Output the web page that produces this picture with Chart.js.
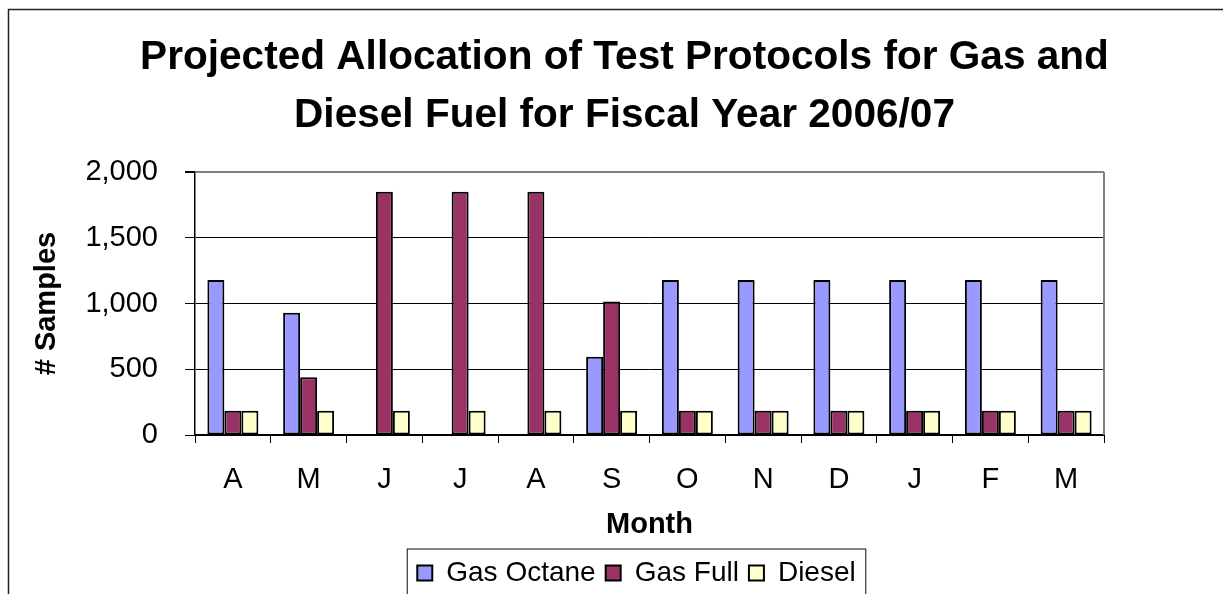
<!DOCTYPE html>
<html>
<head>
<meta charset="utf-8">
<script src="https://cdn.jsdelivr.net/npm/chart.js@4.4.0/dist/chart.umd.min.js"></script>
<style>
  html, body { margin: 0; padding: 0; background: #fff; }
  canvas { display: block; }
</style>
</head>
<body>
<canvas id="fuelChart" width="1223" height="594"></canvas>
<script>
const months = ['A', 'M', 'J', 'J', 'A', 'S', 'O', 'N', 'D', 'J', 'F', 'M'];
const gasOctane = [1180, 930, null, null, null, 595, 1180, 1180, 1180, 1180, 1180, 1180];
const gasFull = [185, 440, 1850, 1850, 1850, 1015, 185, 185, 185, 185, 185, 185];
const diesel = [185, 185, 185, 185, 185, 185, 185, 185, 185, 185, 185, 185];
const yMin = 0;
const yMax = 2000;
const yStep = 500;

const fontFamily = "'Liberation Sans', Arial, sans-serif";
Chart.defaults.font.family = fontFamily;
Chart.defaults.color = '#000';

// frame, plot border and legend box, like the old spreadsheet chart
const chartFrame = {
    id: 'chartFrame',
    beforeDraw(chart) {
        const ctx = chart.ctx;
        ctx.save();
        ctx.fillStyle = '#fff';
        ctx.fillRect(0, 0, chart.width, chart.height);
        ctx.strokeStyle = '#222';
        ctx.lineWidth = 1.5;
        ctx.strokeRect(8.5, 9.5, chart.width + 50, chart.height + 50);
        ctx.restore();
    },
    afterLayout(chart) {
        // legend sits a bit right of the canvas centre
        chart.legend.left += 12;
        chart.legend.right += 12;
    },
    beforeDatasetsDraw(chart) {
        const {ctx, chartArea} = chart;
        ctx.save();
        ctx.strokeStyle = '#808080';
        ctx.lineWidth = 2;
        ctx.beginPath();
        ctx.moveTo(chartArea.right, chartArea.top);
        ctx.lineTo(chartArea.right, chartArea.bottom);
        ctx.stroke();
        ctx.restore();
    },
    afterDraw(chart) {
        const boxes = chart.legend.legendHitBoxes;
        if (!boxes || !boxes.length) return;
        const left = Math.min(...boxes.map(b => b.left));
        const right = Math.max(...boxes.map(b => b.left + b.width));
        const top = boxes[0].top;
        const ctx = chart.ctx;
        ctx.save();
        ctx.strokeStyle = '#333';
        ctx.lineWidth = 1.2;
        ctx.strokeRect(left - 10, top - 10, right - left + 20, 200);
        ctx.restore();
    }
};

const fuelChart = new Chart(document.getElementById('fuelChart'), {
    type: 'bar',
    data: {
        labels: months,
        datasets: [{
            label: 'Gas Octane',
            data: gasOctane,
            backgroundColor: '#9999FF',
            borderColor: '#000',
            borderWidth: 2
        }, {
            label: 'Gas Full',
            data: gasFull,
            backgroundColor: '#993366',
            borderColor: '#000',
            borderWidth: 2
        }, {
            label: 'Diesel',
            data: diesel,
            backgroundColor: '#FFFFCC',
            borderColor: '#000',
            borderWidth: 2
        }]
    },
    options: {
        responsive: false,
        animation: false,
        layout: {
            padding: { left: 26, right: 0, top: 0, bottom: -3 }
        },
        datasets: {
            bar: {
                categoryPercentage: 0.673,
                barPercentage: 1,
                borderSkipped: false
            }
        },
        scales: {
            x: {
                grid: {
                    offset: true,
                    drawOnChartArea: false,
                    color: '#000',
                    tickLength: 8
                },
                border: { color: '#000', width: 2 },
                ticks: {
                    padding: 20,
                    font: { size: 29 },
                    color: '#000'
                },
                title: {
                    display: true,
                    text: 'Month',
                    font: { size: 29, weight: 'bold' },
                    color: '#000',
                    padding: { top: 0, bottom: 7 }
                },
                afterFit(scale) {
                    scale.height = 114;
                }
            },
            y: {
                min: yMin,
                max: yMax,
                ticks: {
                    stepSize: yStep,
                    padding: 27,
                    font: { size: 29 },
                    color: '#000',
                    callback: value => value.toLocaleString('en-US')
                },
                grid: {
                    color: ctx => ctx.tick && ctx.tick.value === yMax ? '#808080' : '#000',
                    lineWidth: ctx => ctx.tick && ctx.tick.value === yMax ? 2 : 1,
                    tickColor: '#000',
                    tickLength: 10
                },
                border: { color: '#000', width: 1.5 },
                title: {
                    display: true,
                    text: '# Samples',
                    font: { size: 29, weight: 'bold' },
                    color: '#000',
                    padding: { top: 4, bottom: 0 }
                },
                afterFit(scale) {
                    scale.width = 169;
                }
            },
            // empty axis only to keep the plot clear of the right edge
            yRight: {
                position: 'right',
                min: yMin,
                max: yMax,
                ticks: { display: false },
                grid: { display: false },
                border: { display: false },
                afterFit(scale) {
                    scale.width = 119;
                }
            }
        },
        plugins: {
            title: {
                display: true,
                text: ['Projected Allocation of Test Protocols for Gas and', 'Diesel Fuel for Fiscal Year 2006/07'],
                font: { size: 40.6, weight: 'bold', lineHeight: 1.43 },
                color: '#000',
                padding: { top: 29, bottom: 27 }
            },
            legend: {
                position: 'bottom',
                labels: {
                    font: { size: 28 },
                    color: '#000',
                    boxWidth: 15,
                    boxHeight: 15,
                    padding: 10
                }
            },
            tooltip: {
                enabled: false
            }
        }
    },
    plugins: [chartFrame]
});
</script>
</body>
</html>
